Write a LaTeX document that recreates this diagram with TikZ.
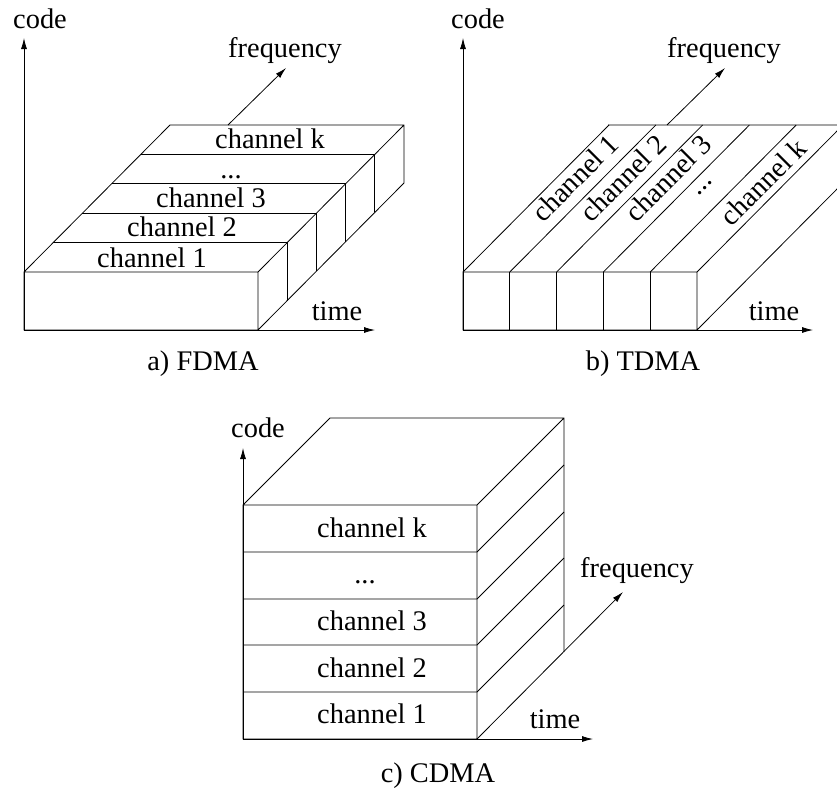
\documentclass[tikz,border=0pt]{standalone}
\usepackage{fontspec}
\setmainfont{Liberation Serif}
\usetikzlibrary{
		calc,
		positioning,
		arrows.meta
	}
\tikzset{
		>={Latex[length=11pt,width=6pt]},
		axis/.style={->, \ldraw, line width=0.8pt},
		box/.style={\ldraw, line width=0.8pt},
		lbl/.style={inner sep=0pt, anchor=base},
		rlbl/.style={inner sep=0pt, anchor=center, rotate=45}
	}
\newcommand{\ldraw}{black}

\begin{document}
\begin{tikzpicture}[x=1pt, y=-1pt, font=\fontsize{28.4}{34}\selectfont]
		\useasboundingbox (0,0) rectangle (837,790);
		\clip (0,0) rectangle (837,790);
		% a) FDMA
		\coordinate (fo) at (24,330);
		\coordinate (fc) at (24,38);
		\coordinate (ft) at (375,330);
		\coordinate (ffa) at (228,125);
		\coordinate (ffb) at (286,68);
		\draw[box] (24,272) rectangle (258,330)
				   (24,272) -- (170,125) -- (404,125) -- (404,183) -- (258,330)
				   (258,272) -- (404,125);
		\foreach \k in {1,...,4}
			\draw[box] ({24+29.2*\k},{272-29.4*\k}) -- ++(234,0) -- ++(0,58);
		\draw[axis] (fo) -- (fc);
		\draw[axis] (fo) -- (ft);
		\draw[axis] (ffa) -- (ffb);
		\node[lbl] (fcode) at (40,28) {code};
		\node[lbl] (ftime) at (337,320) {time};
		\node[lbl] (ffreq) at (285,57) {frequency};
		\node[lbl] (fch1) at (152,267) {channel 1};
		\node[lbl] (fch2) at (182,236) {channel 2};
		\node[lbl] (fch3) at (211,207) {channel 3};
		\node[lbl] (fdots) at (231,178) {...};
		\node[lbl] (fchk) at (270,148) {channel k};
		\node[lbl] (fcap) at (203,370) {a) FDMA};
		% b) TDMA
		\coordinate (to) at (463,330);
		\coordinate (tc) at (463,38);
		\coordinate (tt) at (813,330);
		\coordinate (tfa) at (667,125);
		\coordinate (tfb) at (725,68);
		\draw[box] (463,272) rectangle (697,330)
				   (608,125) -- (880,125)
				   (697,330) -- ++(146,-147) -- ++(0,-58);
		\foreach \k in {0,...,5}
			\draw[box] ({463+46.8*\k},272) -- ++(146,-147);
		\foreach \k in {1,...,4}
			\draw[box] ({463+46.8*\k},272) -- ++(0,58);
		\draw[axis] (to) -- (tc);
		\draw[axis] (to) -- (tt);
		\draw[axis] (tfa) -- (tfb);
		\node[lbl] (tcode) at (478,28) {code};
		\node[lbl] (ttime) at (774,320) {time};
		\node[lbl] (tfreq) at (724,57) {frequency};
		\node[rlbl] (tch1) at (575,178) {channel 1};
		\node[rlbl] (tch2) at (623,178) {channel 2};
		\node[rlbl] (tch3) at (668,178) {channel 3};
		\node[rlbl] (tdots) at (705,188) {...};
		\node[rlbl] (tchk) at (763,182) {channel k};
		\node[lbl] (tcap) at (643,370) {b) TDMA};
		% c) CDMA
		\coordinate (co) at (243,739);
		\coordinate (cc) at (243,448);
		\coordinate (ct) at (593,739);
		\coordinate (cfa) at (477,739);
		\coordinate (cfb) at (623,592);
		\draw[box] (243,505) rectangle (477,739)
				   (243,505) -- (330,418) -- (564,418) -- (564,652)
				   (477,505) -- (564,418);
		\foreach \y in {552,599,645,692}
			\draw[box] (243,\y) -- (477,\y) -- ++(87,-87);
		\draw[axis] (co) -- (cc);
		\draw[axis] (co) -- (ct);
		\draw[axis] (cfa) -- (cfb);
		\node[lbl] (ccode) at (258,437) {code};
		\node[lbl] (ctime) at (555,728) {time};
		\node[lbl] (cfreq) at (637,577) {frequency};
		\node[lbl] (cchk) at (372,537) {channel k};
		\node[lbl] (cdots) at (365,583) {...};
		\node[lbl] (cch3) at (372,630) {channel 3};
		\node[lbl] (cch2) at (372,677) {channel 2};
		\node[lbl] (cch1) at (372,723) {channel 1};
		\node[lbl] (ccap) at (438,782) {c) CDMA};
	\end{tikzpicture}
\end{document}
